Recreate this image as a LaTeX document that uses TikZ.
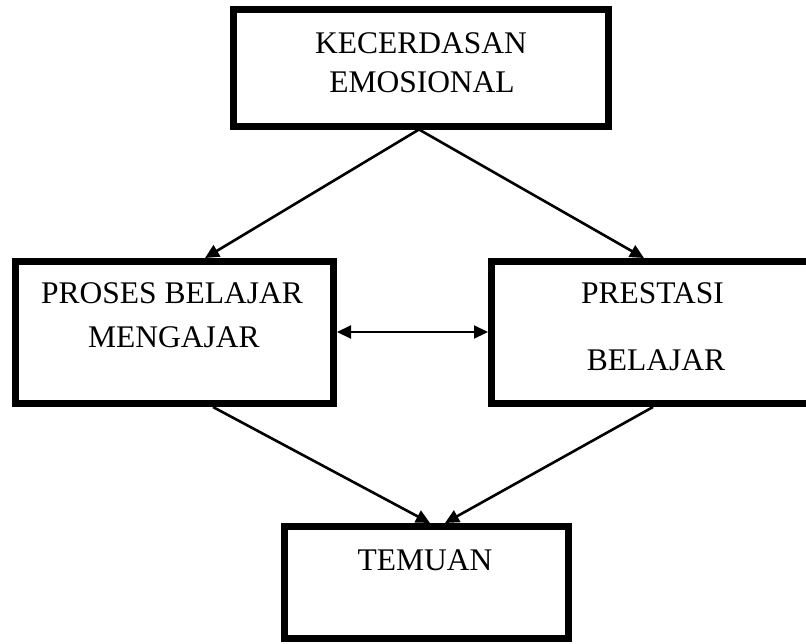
\documentclass[tikz,border=0pt]{standalone}
\usepackage{fontspec}
\setmainfont{Liberation Serif}
\usetikzlibrary{arrows.meta}
\begin{document}
\begin{tikzpicture}[x=1pt,y=-1pt,
  box/.style={draw=black,line width=7pt,inner sep=0pt,outer sep=3.5pt,fill=white},
  lbl/.style={anchor=base,inner sep=0pt,font=\fontsize{31.5}{40}\selectfont},
  conn/.style={line width=2.6pt,-{Triangle[length=14pt,width=13pt]}},
  conn2/.style={line width=2.2pt,{Triangle[length=14pt,width=13pt]}-{Triangle[length=14pt,width=13pt]}}]
\clip (0,0) rectangle (806,643);
\fill[white] (0,0) rectangle (806,643);
% boxes
\node[box,minimum width=375pt,minimum height=117pt] (top) at (421,67.5) {};
\node[box,minimum width=318.5pt,minimum height=142pt] (lbox) at (174.25,332.5) {};
\node[box,minimum width=320.5pt,minimum height=142pt] (rbox) at (651.75,332.5) {};
\node[box,minimum width=284.5pt,minimum height=112pt] (bbox) at (426.25,582.5) {};
% texts
\node[lbl] (t1) at (421,53) {KECERDASAN};
\node[lbl] (t2) at (422,92.7) {EMOSIONAL};
\node[lbl] (l1) at (172,303) {PROSES BELAJAR};
\node[lbl] (l2) at (174,347) {MENGAJAR};
\node[lbl] (r1) at (652.5,303) {PRESTASI};
\node[lbl] (r2) at (656,370) {BELAJAR};
\node[lbl] (b1) at (425,570) {TEMUAN};
% connectors
\draw[conn] ([xshift=-2pt]top.south) -- ([xshift=30.75pt]lbox.north);
\draw[conn] ([xshift=-2pt]top.south) -- ([xshift=-7.75pt]rbox.north);
\draw[conn2] ([yshift=0.5pt]lbox.east) -- ([yshift=0.5pt]rbox.west);
\draw[conn] ([xshift=38.75pt]lbox.south) -- ([xshift=3.75pt]bbox.north);
\draw[conn] ([xshift=1.25pt]rbox.south) -- ([xshift=18.75pt]bbox.north);
\end{tikzpicture}
\end{document}
